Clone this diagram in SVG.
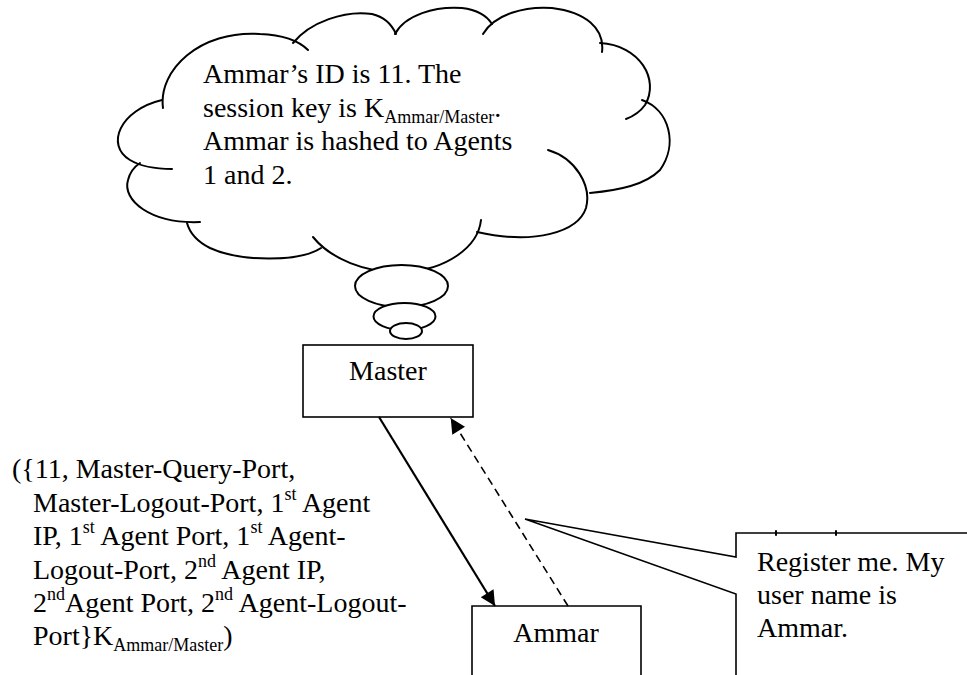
<svg xmlns="http://www.w3.org/2000/svg" width="967" height="675" viewBox="0 0 967 675">
<style>
text{font-family:"Liberation Serif","Times New Roman",serif;font-size:28px;fill:#000}
.sm{font-size:18px}
.ln{fill:none;stroke:#000;stroke-width:2;stroke-linecap:round}
.box{fill:#fff;stroke:#000;stroke-width:1.6}
.bub{fill:#fff;stroke:#000;stroke-width:2}
</style>
<defs>
<marker id="ah" viewBox="0 0 10 10" refX="10" refY="5" markerWidth="21" markerHeight="15" markerUnits="userSpaceOnUse" orient="auto">
<path d="M0,0 L10,5 L0,10 z" fill="#000"/>
</marker>
</defs>
<rect width="967" height="675" fill="#fff"/>

<g id="cloud">
<path class="ln" d="M163,108 C158,70 200,30 260,34 C285,35 300,42 308,50"/>
<path class="ln" d="M293,43 C310,22 345,10 372,14 C385,17 392,25 396,34"/>
<path class="ln" d="M395,34 C405,15 435,6 462,8 C478,10 487,16 492,24"/>
<path class="ln" d="M483,34 C495,14 525,6 552,8 C585,12 605,28 602,52"/>
<path class="ln" d="M600,43 C640,45 660,80 645,105 C640,112 634,116 626,119"/>
<path class="ln" d="M642,100 C670,110 678,145 660,170 C645,185 620,190 590,193"/>
<path class="ln" d="M548,150 C575,158 592,185 586,208 C578,232 535,245 477,232"/>
<path class="ln" d="M481,220 C478,248 445,270 405,272 C365,274 330,258 313,237"/>
<path class="ln" d="M321,248 C300,262 240,262 210,248 C198,242 190,234 187,223"/>
<path class="ln" d="M200,222 C150,224 122,200 128,180 C130,172 134,167 140,163"/>
<path class="ln" d="M162,100 C120,110 105,145 130,160 C140,166 155,169 172,169"/>
<ellipse class="bub" cx="401.5" cy="286" rx="46.5" ry="21"/>
<ellipse class="bub" cx="404.5" cy="316.5" rx="31" ry="13.5"/>
<ellipse class="bub" cx="406" cy="331" rx="16" ry="8"/>
<text x="203" y="83">Ammar’s ID is 11. The</text>
<text x="203" y="116.5">session key is K<tspan class="sm" dy="6">Ammar/Master</tspan><tspan dy="-6">.</tspan></text>
<text x="203" y="150">Ammar is hashed to Agents</text>
<text x="203" y="183.5">1 and 2.</text>
</g>

<g id="master">
<rect class="box" x="303" y="345" width="170" height="72"/>
<text x="388" y="380" text-anchor="middle">Master</text>
</g>

<g id="ammar">
<path class="box" d="M472,690 V606 H641 V690"/>
<text x="556" y="642" text-anchor="middle">Ammar</text>
</g>

<g id="callout">
<path class="box" d="M736,690 L736,594 L525,519 L736,557 L736,533 L980,533 L980,690"/>
<path class="ln" stroke-width="1" d="M776,531 V535 M836,531 V535"/>
<text x="757" y="571">Register me. My</text>
<text x="757" y="604">user name is</text>
<text x="757" y="637">Ammar.</text>
</g>

<g id="label">
<text x="12" y="478">({11, Master-Query-Port,</text>
<text x="33" y="511.5">Master-Logout-Port, 1<tspan class="sm" dy="-12">st</tspan><tspan dy="12"> Agent</tspan></text>
<text x="33" y="545">IP, 1<tspan class="sm" dy="-12">st</tspan><tspan dy="12"> Agent Port, 1</tspan><tspan class="sm" dy="-12">st</tspan><tspan dy="12"> Agent-</tspan></text>
<text x="33" y="578.5">Logout-Port, 2<tspan class="sm" dy="-12">nd</tspan><tspan dy="12"> Agent IP,</tspan></text>
<text x="33" y="612">2<tspan class="sm" dy="-12">nd</tspan><tspan dy="12">Agent Port, 2</tspan><tspan class="sm" dy="-12">nd</tspan><tspan dy="12"> Agent-Logout-</tspan></text>
<text x="33" y="645">Port}K<tspan class="sm" dy="6">Ammar/Master</tspan><tspan dy="-6">)</tspan></text>
</g>

<g id="connectors">
<line x1="379" y1="417" x2="495" y2="606" stroke="#000" stroke-width="2.2" marker-end="url(#ah)"/>
<line x1="568" y1="606" x2="450.7" y2="418" stroke="#000" stroke-width="1.6" stroke-dasharray="8,5" marker-end="url(#ah)"/>
</g>
</svg>
